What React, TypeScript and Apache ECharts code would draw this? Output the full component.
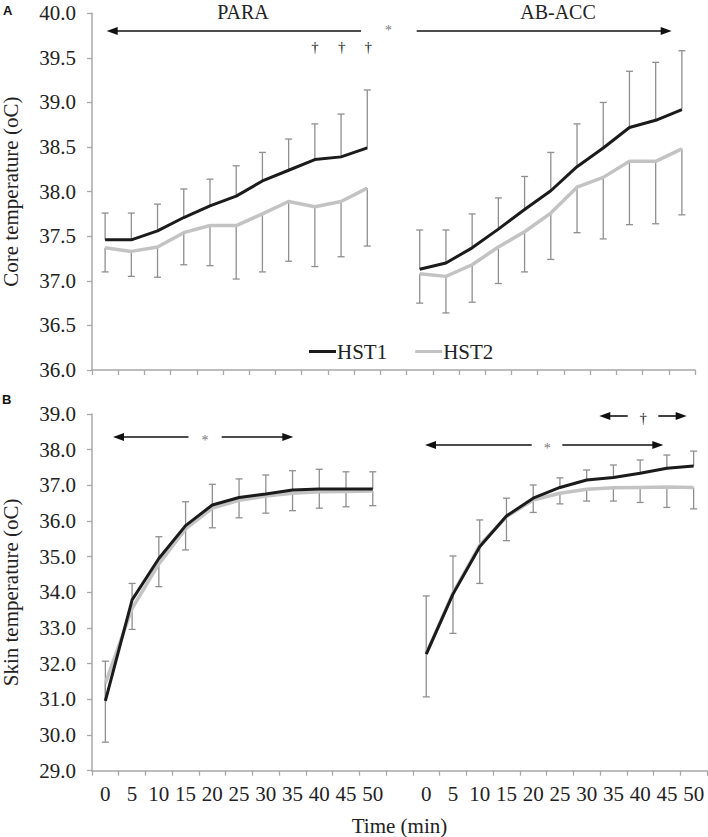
import React, { useEffect, useRef } from "react";
import * as echarts from "echarts";

// ---------- data ----------
const timeLabels = ["0", "5", "10", "15", "20", "25", "30", "35", "40", "45", "50"];
const groupNames = ["PARA", "AB-ACC"];

// Panel A: core temperature (oC)
const paraCoreHST1 = [37.46, 37.46, 37.56, 37.71, 37.84, 37.95, 38.12, 38.24, 38.36, 38.39, 38.49];
const paraCoreHST1Upper = [37.76, 37.76, 37.86, 38.03, 38.14, 38.29, 38.44, 38.59, 38.76, 38.87, 39.14];
const paraCoreHST2 = [37.37, 37.33, 37.38, 37.54, 37.62, 37.62, 37.75, 37.89, 37.83, 37.89, 38.04];
const paraCoreHST2Lower = [37.10, 37.05, 37.04, 37.18, 37.17, 37.02, 37.10, 37.22, 37.16, 37.27, 37.39];
const abaccCoreHST1 = [37.13, 37.20, 37.37, 37.58, 37.80, 38.01, 38.28, 38.49, 38.72, 38.80, 38.92];
const abaccCoreHST1Upper = [37.57, 37.57, 37.75, 37.93, 38.17, 38.44, 38.76, 39.00, 39.35, 39.45, 39.58];
const abaccCoreHST2 = [37.08, 37.05, 37.18, 37.38, 37.55, 37.76, 38.05, 38.16, 38.34, 38.34, 38.48];
const abaccCoreHST2Lower = [36.75, 36.64, 36.76, 36.97, 37.10, 37.24, 37.54, 37.47, 37.63, 37.64, 37.74];

// Panel B: skin temperature (oC)
const paraSkinHST1 = [30.96, 33.79, 34.95, 35.87, 36.45, 36.66, 36.76, 36.87, 36.90, 36.90, 36.90];
const paraSkinHST1Upper = [32.07, 34.25, 35.56, 36.54, 37.03, 37.18, 37.29, 37.41, 37.45, 37.38, 37.38];
const paraSkinHST2 = [31.45, 33.55, 34.80, 35.78, 36.36, 36.58, 36.70, 36.78, 36.82, 36.83, 36.84];
const paraSkinHST2Lower = [29.80, 32.96, 34.16, 35.19, 35.81, 36.09, 36.22, 36.29, 36.36, 36.40, 36.43];
const abaccSkinHST1 = [32.27, 33.95, 35.28, 36.14, 36.64, 36.94, 37.15, 37.22, 37.34, 37.48, 37.54];
const abaccSkinHST1Upper = [33.90, 35.02, 36.03, 36.64, 37.01, 37.21, 37.43, 37.57, 37.71, 37.85, 37.96];
const abaccSkinHST2 = [32.27, 33.98, 35.32, 36.12, 36.59, 36.78, 36.89, 36.93, 36.94, 36.95, 36.94];
const abaccSkinHST2Lower = [31.07, 32.85, 34.25, 35.45, 36.24, 36.48, 36.56, 36.56, 36.52, 36.38, 36.34];

// axes
const coreTicks = { min: 36, max: 40, interval: 0.5 };
const skinTicks = { min: 29, max: 39, interval: 1 };

// ---------- helpers ----------
const SERIF = "Liberation Serif";
const xCats = [...timeLabels, "", ...timeLabels];
const join = (a: number[], b: number[]) => [...a, null, ...b];
const errData = (means: (number | null)[], bounds: (number | null)[]) =>
  means
    .map((m, i) => (m == null || bounds[i] == null ? null : [i, m, bounds[i]]))
    .filter((d) => d !== null);

const errRender = (params: any, api: any) => {
  const x = api.value(0);
  const p1 = api.coord([x, api.value(1)]);
  const p2 = api.coord([x, api.value(2)]);
  const hw = 3.5;
  const st = { stroke: "#8f8f8f", lineWidth: 1.3 };
  return {
    type: "group",
    children: [
      { type: "line", shape: { x1: p1[0], y1: p1[1], x2: p2[0], y2: p2[1] }, style: st },
      { type: "line", shape: { x1: p2[0] - hw, y1: p2[1], x2: p2[0] + hw, y2: p2[1] }, style: st },
    ],
  };
};

const arrowEls = (x1: number, x2: number, y: number, headLeft: boolean, headRight: boolean) => {
  const els: any[] = [
    { type: "line", shape: { x1: headLeft ? x1 + 6 : x1, y1: y, x2: headRight ? x2 - 6 : x2, y2: y }, style: { stroke: "#111", lineWidth: 1.6 } },
  ];
  if (headLeft)
    els.push({ type: "polygon", shape: { points: [[x1, y], [x1 + 11, y - 4], [x1 + 11, y + 4]] }, style: { fill: "#111" } });
  if (headRight)
    els.push({ type: "polygon", shape: { points: [[x2, y], [x2 - 11, y - 4], [x2 - 11, y + 4]] }, style: { fill: "#111" } });
  return els;
};

const txt = (text: string, x: number, y: number, size: number, color = "#222", extra: any = {}) => ({
  type: "text",
  x,
  y,
  style: { text, fill: color, fontFamily: SERIF, fontSize: size, align: "center", verticalAlign: "middle", ...extra },
});

export default function App() {
  const ref = useRef<HTMLDivElement>(null);
  useEffect(() => {
    if (!ref.current) return;
    const chart = echarts.init(ref.current, undefined, { renderer: "svg" });

    const axisLine = { show: true, lineStyle: { color: "#a8a8a8", width: 1.5 } };
    const axisTick = { show: true, lineStyle: { color: "#a8a8a8", width: 1.3 }, length: 5 };
    const labelStyle = { color: "#222", fontFamily: SERIF, fontSize: 21 };

    const lineSeries = (name: string, data: any[], xi: number, color: string, width: number, z: number) => ({
      type: "line",
      name,
      xAxisIndex: xi,
      yAxisIndex: xi,
      data,
      symbol: "none",
      connectNulls: false,
      lineStyle: { color, width },
      itemStyle: { color },
      z,
    });
    const errSeries = (data: any[], xi: number) => ({
      type: "custom",
      xAxisIndex: xi,
      yAxisIndex: xi,
      data,
      renderItem: errRender,
      z: 1,
      silent: true,
    });

    const option: any = {
      animation: false,
      backgroundColor: "#fff",
      grid: [
        { left: 92, right: 13, top: 13.3, height: 356.7, containLabel: false, outerBoundsMode: "none" },
        { left: 92, right: 1, top: 414, height: 356.7, containLabel: false, outerBoundsMode: "none" },
      ],
      legend: {
        data: ["HST1", "HST2"],
        left: 304,
        top: 336,
        icon: "rect",
        itemWidth: 27,
        itemHeight: 3,
        itemGap: 28,
        textStyle: { ...labelStyle, padding: [0, 0, 0, -4] },
      },
      xAxis: [
        {
          type: "category",
          gridIndex: 0,
          data: xCats,
          axisLine,
          axisTick,
          axisLabel: { show: false },
          splitLine: { show: false },
        },
        {
          type: "category",
          gridIndex: 1,
          data: xCats,
          axisLine,
          axisTick,
          axisLabel: { ...labelStyle, interval: 0, margin: 13 },
          splitLine: { show: false },
          name: "Time (min)",
          nameLocation: "middle",
          nameGap: 45,
          nameTextStyle: labelStyle,
        },
      ],
      yAxis: [
        {
          type: "value",
          gridIndex: 0,
          ...coreTicks,
          axisLine,
          axisTick,
          axisLabel: { ...labelStyle, margin: 16, formatter: (v: number) => v.toFixed(1) },
          splitLine: { show: false },
          name: "Core temperature (oC)",
          nameLocation: "middle",
          nameGap: 71,
          nameTextStyle: labelStyle,
        },
        {
          type: "value",
          gridIndex: 1,
          ...skinTicks,
          axisLine,
          axisTick,
          axisLabel: { ...labelStyle, margin: 16, formatter: (v: number) => v.toFixed(1) },
          splitLine: { show: false },
          name: "Skin temperature (oC)",
          nameLocation: "middle",
          nameGap: 71,
          nameTextStyle: labelStyle,
        },
      ],
      series: [
        errSeries(errData(join(paraCoreHST1, abaccCoreHST1), join(paraCoreHST1Upper, abaccCoreHST1Upper)), 0),
        errSeries(errData(join(paraCoreHST2, abaccCoreHST2), join(paraCoreHST2Lower, abaccCoreHST2Lower)), 0),
        lineSeries("HST2", join(paraCoreHST2, abaccCoreHST2), 0, "#c3c3c3", 3.5, 3),
        lineSeries("HST1", join(paraCoreHST1, abaccCoreHST1), 0, "#1b1b1b", 3, 4),
        errSeries(errData(join(paraSkinHST1, abaccSkinHST1), join(paraSkinHST1Upper, abaccSkinHST1Upper)), 1),
        errSeries(errData(join(paraSkinHST2, abaccSkinHST2), join(paraSkinHST2Lower, abaccSkinHST2Lower)), 1),
        lineSeries("HST2", join(paraSkinHST2, abaccSkinHST2), 1, "#c3c3c3", 3.5, 3),
        lineSeries("HST1", join(paraSkinHST1, abaccSkinHST1), 1, "#1b1b1b", 3, 4),
      ],
      graphic: [
        {
          type: "text",
          x: 3,
          y: 4,
          style: { text: "A", fontFamily: "Liberation Sans", fontWeight: "bold", fontSize: 13, fill: "#111" },
        },
        {
          type: "text",
          x: 2,
          y: 393,
          style: { text: "B", fontFamily: "Liberation Sans", fontWeight: "bold", fontSize: 13, fill: "#111" },
        },
        txt(groupNames[0], 243, 12, 20),
        txt(groupNames[1], 558, 12, 20),
        ...arrowEls(106.7, 361, 31, true, false),
        ...arrowEls(416.7, 671.7, 31, false, true),
        txt("*", 388.5, 30, 14, "#777"),
        txt("†", 315, 47, 15),
        txt("†", 341.7, 47, 15),
        txt("†", 368.3, 47, 15),
        ...arrowEls(113, 188.5, 437, true, false),
        txt("*", 205, 440, 14, "#777"),
        ...arrowEls(221.7, 293.3, 437, false, true),
        ...arrowEls(425, 531.7, 445, true, false),
        txt("*", 547.3, 448, 14, "#777"),
        ...arrowEls(562.3, 663.3, 445, false, true),
        ...arrowEls(599.3, 627.7, 416, true, false),
        txt("†", 643.3, 418, 15),
        ...arrowEls(658.3, 686.7, 416, false, true),
      ],
    };
    chart.setOption(option);
    return () => chart.dispose();
  }, []);

  return (
    <div
      ref={ref}
      style={{ position: "fixed", left: 0, top: 0, width: 708, height: 837, background: "#fff" }}
    />
  );
}
